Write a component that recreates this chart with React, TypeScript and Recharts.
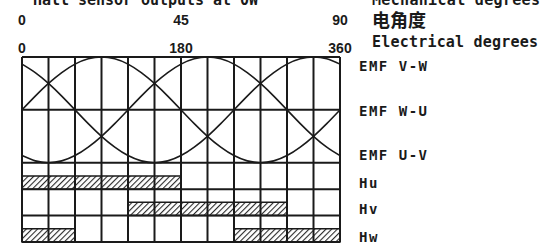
import React from "react";
import {
  ComposedChart,
  Line,
  XAxis,
  YAxis,
  ReferenceLine,
  ReferenceArea,
} from "recharts";

// electrical angle samples (deg) and EMF levels
const elecDeg = [0, 15, 30, 45, 60, 75, 90, 105, 120, 135, 150, 165, 180, 195, 210, 225, 240, 255, 270, 285, 300, 315, 330, 345, 360];
const emfVW = [6.73, 6.41, 6, 5.52, 5, 4.48, 4, 3.59, 3.27, 3.07, 3, 3.07, 3.27, 3.59, 4, 4.48, 5, 5.52, 6, 6.41, 6.73, 6.93, 7, 6.93, 6.73];
const emfWU = [5, 5.52, 6, 6.41, 6.73, 6.93, 7, 6.93, 6.73, 6.41, 6, 5.52, 5, 4.48, 4, 3.59, 3.27, 3.07, 3, 3.07, 3.27, 3.59, 4, 4.48, 5];
const emfUV = [3.27, 3.07, 3, 3.07, 3.27, 3.59, 4, 4.48, 5, 5.52, 6, 6.41, 6.73, 6.93, 7, 6.93, 6.73, 6.41, 6, 5.52, 5, 4.48, 4, 3.59, 3.27];

// tick marks sit at these electrical angles; the mechanical row labels them differently
const elecTicks = [0, 180, 360];
const mechLabels = ["0", "45", "90"];
const gridX = [0, 30, 60, 90, 120, 150, 180, 210, 240, 270, 300, 330, 360];
const gridY = [0, 1, 2, 3, 5, 7];

// hall outputs: row level and the spans where the output is high
const hallLevels = [2, 1, 0];
const hallHigh = [
  [[0, 180]],
  [[120, 300]],
  [[0, 60], [240, 360]],
];

const rowLabels = ["EMF V-W", "EMF W-U", "EMF U-V", "Hu", "Hv", "Hw"];
const rowLabelPos = [6.65, 4.95, 3.3, 2.25, 1.25, 0.2];

const INK = "#1a1a1a";
const MONO = "'DejaVu Sans Mono', monospace";
const CJK = "'Noto Sans CJK SC', sans-serif";
const DIGITS = "'Liberation Sans', Arial, sans-serif";

const data = elecDeg.map((a, i) => ({
  a,
  vw: emfVW[i],
  wu: emfWU[i],
  uv: emfUV[i],
}));

function RowTick(props: any) {
  const { x, y, payload } = props;
  const idx = rowLabelPos.indexOf(payload.value);
  return (
    <text
      x={x}
      y={y}
      dy={5}
      textAnchor="start"
      fontFamily={MONO}
      fontWeight="bold"
      fontSize={14}
      letterSpacing={1.5}
      fill={INK}
    >
      {rowLabels[idx]}
    </text>
  );
}

function makeDegTick(labels: string[] | null) {
  return function DegTick(props: any) {
    const { x, y, payload, index } = props;
    const txt = labels ? labels[index] : String(payload.value);
    return (
      <text
        x={x}
        y={y}
        textAnchor="middle"
        fontFamily={DIGITS}
        fontWeight="bold"
        fontSize={14}
        fill={INK}
      >
        {txt}
      </text>
    );
  };
}

const ElecTick = makeDegTick(null);
const MechTick = makeDegTick(mechLabels);

export default function App() {
  return (
    <div
      style={{
        position: "absolute",
        left: 0,
        top: 0,
        width: 542,
        height: 247,
        background: "#fff",
      }}
    >
      <ComposedChart
        width={542}
        height={247}
        data={data}
        margin={{ top: 0, right: 0, bottom: 5, left: 22 }}
      >
        <defs>
          <pattern
            id="hatch"
            patternUnits="userSpaceOnUse"
            width={4}
            height={4}
            patternTransform="rotate(45)"
          >
            <rect width={4} height={4} fill="#fff" />
            <line x1={0} y1={0} x2={0} y2={4} stroke="#2a2a2a" strokeWidth={2.2} />
          </pattern>
        </defs>

        <XAxis
          xAxisId="el"
          dataKey="a"
          type="number"
          orientation="top"
          domain={[0, 360]}
          ticks={elecTicks}
          height={28}
          axisLine={false}
          tickLine={false}
          tickSize={0}
          tickMargin={4}
          interval={0}
          tick={<ElecTick />}
        />
        <XAxis
          xAxisId="mech"
          dataKey="a"
          type="number"
          orientation="top"
          domain={[0, 360]}
          ticks={elecTicks}
          height={29}
          axisLine={false}
          tickLine={false}
          tickSize={0}
          tickMargin={4}
          interval={0}
          tick={<MechTick />}
        />
        <YAxis
          yAxisId="r"
          type="number"
          orientation="right"
          domain={[0, 7]}
          ticks={rowLabelPos}
          width={202}
          axisLine={false}
          tickLine={false}
          tickSize={0}
          tickMargin={19}
          interval={0}
          tick={<RowTick />}
          allowDataOverflow
        />

        {hallHigh.map((spans, r) =>
          spans.map(([x1, x2], k) => (
            <ReferenceArea
              key={`h${r}-${k}`}
              xAxisId="el"
              yAxisId="r"
              x1={x1}
              x2={x2}
              y1={hallLevels[r]}
              y2={hallLevels[r] + 0.5}
              fill="url(#hatch)"
              fillOpacity={1}
              stroke={INK}
              strokeWidth={1.5}
            />
          ))
        )}

        {gridX.map((v) => (
          <ReferenceLine
            key={`gx${v}`}
            xAxisId="el"
            yAxisId="r"
            x={v}
            stroke={INK}
            strokeWidth={2}
          />
        ))}
        {gridY.map((v) => (
          <ReferenceLine
            key={`gy${v}`}
            xAxisId="el"
            yAxisId="r"
            y={v}
            stroke={INK}
            strokeWidth={2}
          />
        ))}

        <Line xAxisId="el" yAxisId="r" type="natural" dataKey="vw" stroke={INK} strokeWidth={1.6} dot={false} isAnimationActive={false} />
        <Line xAxisId="el" yAxisId="r" type="natural" dataKey="wu" stroke={INK} strokeWidth={1.6} dot={false} isAnimationActive={false} />
        <Line xAxisId="el" yAxisId="r" type="natural" dataKey="uv" stroke={INK} strokeWidth={1.6} dot={false} isAnimationActive={false} />

        <text x={33} y={5} textLength={225} lengthAdjust="spacing" fontFamily={MONO} fontWeight="bold" fontSize={15} fill={INK}>
          Hall sensor outputs at 0W
        </text>
        <text x={372} y={5} textLength={168} lengthAdjust="spacing" fontFamily={MONO} fontWeight="bold" fontSize={15} fill={INK}>
          Mechanical degrees
        </text>
        <text x={372} y={27} fontFamily={CJK} fontWeight="bold" fontSize={18} fill={INK}>
          电角度
        </text>
        <text x={372} y={47} textLength={166} lengthAdjust="spacing" fontFamily={MONO} fontWeight="bold" fontSize={15} fill={INK}>
          Electrical degrees
        </text>
      </ComposedChart>
    </div>
  );
}
